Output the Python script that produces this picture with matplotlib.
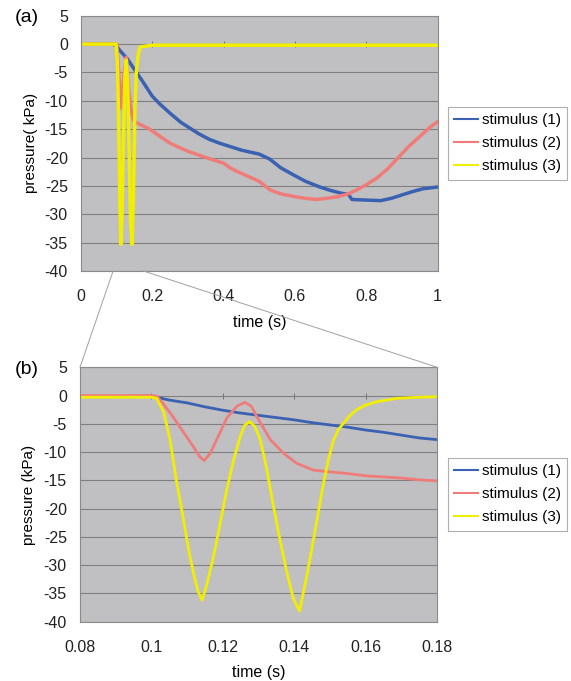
import matplotlib
matplotlib.use("Agg")
import matplotlib.pyplot as plt
from matplotlib.patches import ConnectionPatch

plt.rcParams['font.family'] = ['Liberation Sans', 'DejaVu Sans']
plt.rcParams['axes.unicode_minus'] = False

series_names = ['stimulus (1)', 'stimulus (2)', 'stimulus (3)']
colors = ['#3b62b2', '#f07c7a', '#f2ee00']

# panel (a): whole 1 s record
t_a1 = [0, 0.09, 0.1, 0.11, 0.13, 0.15, 0.17, 0.2, 0.22, 0.25, 0.28, 0.3, 0.33, 0.36,
        0.39, 0.42, 0.45, 0.5, 0.53, 0.56, 0.6, 0.63, 0.67, 0.7, 0.73, 0.75, 0.76,
        0.8, 0.84, 0.87, 0.9, 0.93, 0.96, 1.0]
p_a1 = [0, 0, -0.4, -1.2, -2.6, -4.5, -6.3, -9.2, -10.5, -12.2, -13.8, -14.6, -15.8,
        -16.8, -17.5, -18.1, -18.7, -19.4, -20.3, -21.8, -23.2, -24.2, -25.2, -25.8,
        -26.3, -26.5, -27.4, -27.5, -27.6, -27.2, -26.6, -26.0, -25.5, -25.2]

t_a2 = [0, 0.1, 0.105, 0.111, 0.118, 0.127, 0.133, 0.14, 0.147, 0.16, 0.19, 0.22, 0.25,
        0.3, 0.35, 0.4, 0.42, 0.45, 0.5, 0.53, 0.56, 0.6, 0.63, 0.66, 0.7, 0.72, 0.75,
        0.78, 0.8, 0.83, 0.86, 0.89, 0.92, 0.95, 0.98, 1.0]
p_a2 = [0, 0, -4, -11.3, -7, -2.3, -7.5, -11.5, -13.4, -14.0, -14.9, -16.2, -17.5,
        -18.9, -20.0, -21.0, -21.9, -22.8, -24.2, -25.7, -26.4, -26.9, -27.2, -27.4,
        -27.1, -26.9, -26.4, -25.5, -24.8, -23.6, -22.0, -20.0, -18.0, -16.3, -14.6, -13.7]

t_a3 = [0, 0.098, 0.102, 0.106, 0.109, 0.112, 0.115, 0.119, 0.123, 0.127, 0.131, 0.135,
        0.139, 0.143, 0.147, 0.151, 0.155, 0.16, 0.166, 0.2, 1.0]
p_a3 = [0, 0, -3, -15, -28, -35.3, -30, -17, -6, -2.8, -7, -19, -31, -35.3, -27, -12,
        -5, -2, -0.5, -0.2, -0.2]

# panel (b): 0.08 - 0.18 s
t_b1 = [0.08, 0.1, 0.105, 0.11, 0.115, 0.12, 0.125, 0.13, 0.135, 0.14, 0.145, 0.15,
        0.155, 0.16, 0.165, 0.17, 0.175, 0.18]
p_b1 = [-0.2, -0.1, -0.8, -1.3, -2.0, -2.6, -3.1, -3.5, -3.9, -4.3, -4.8, -5.2, -5.6,
        -6.1, -6.5, -7.0, -7.5, -7.8]

t_b2 = [0.08, 0.1, 0.1015, 0.103, 0.106, 0.108, 0.11, 0.112, 0.1135, 0.1148, 0.1165,
        0.1183, 0.1211, 0.1239, 0.1262, 0.128, 0.1295, 0.1333, 0.137, 0.1407, 0.1454,
        0.15, 0.155, 0.16, 0.165, 0.17, 0.175, 0.18]
p_b2 = [0, 0, -0.1, -1.2, -3.7, -5.6, -7.4, -9.3, -10.8, -11.5, -10.2, -7.8, -4.0, -1.9,
        -1.2, -1.9, -3.7, -7.8, -10.2, -12.0, -13.2, -13.5, -13.8, -14.2, -14.4, -14.6,
        -14.9, -15.1]

t_b3 = [0.08, 0.1, 0.1015, 0.1035, 0.1052, 0.107, 0.109, 0.1105, 0.1118, 0.113, 0.1142,
        0.1155, 0.1174, 0.1193, 0.1211, 0.123, 0.1249, 0.1262, 0.1275, 0.129, 0.1305,
        0.1323, 0.1342, 0.136, 0.138, 0.1398, 0.1415, 0.1435, 0.1454, 0.1468, 0.1482,
        0.1496, 0.151, 0.1524, 0.1538, 0.1557, 0.1575, 0.16, 0.1631, 0.1687, 0.175, 0.18]
p_b3 = [-0.3, -0.3, -0.5, -3, -7.8, -15, -22, -27.5, -31.4, -34.5, -36.2, -33.5, -28.5,
        -22.5, -16.7, -11.5, -7.2, -5.2, -4.6, -5.5, -7.8, -13, -19.6, -25.5, -31.4, -36,
        -38.1, -32, -25.5, -20.5, -15.5, -11.3, -7.9, -6.0, -4.9, -3.5, -2.5, -1.7, -1.1,
        -0.5, -0.3, -0.2]

yticks = [5, 0, -5, -10, -15, -20, -25, -30, -35, -40]
xticks_a = [0, 0.2, 0.4, 0.6, 0.8, 1.0]
xlabels_a = ['0', '0.2', '0.4', '0.6', '0.8', '1']
xticks_b = [0.08, 0.1, 0.12, 0.14, 0.16, 0.18]
xlabels_b = ['0.08', '0.1', '0.12', '0.14', '0.16', '0.18']

fig = plt.figure(figsize=(5.71, 6.81), dpi=100)
ax1 = fig.add_axes([0.1419, 0.6021, 0.6243, 0.3748])
ax2 = fig.add_axes([0.1401, 0.0871, 0.6252, 0.3736])


def style_axes(ax, xticks, xlabels, xlim, ylabel):
    ax.set_facecolor('#c0c0c2')
    ax.set_xlim(*xlim)
    ax.set_ylim(-40, 5)
    ax.set_yticks(yticks)
    ax.set_xticks(xticks)
    ax.set_xticklabels(xlabels)
    ax.tick_params(axis='both', length=0, labelsize=11.5, colors='#222222')
    ax.tick_params(axis='x', pad=13)
    ax.tick_params(axis='y', pad=9.5)
    ax.grid(axis='y', color='#808080', linewidth=0.8)
    ax.set_axisbelow(True)
    for s in ax.spines.values():
        s.set_color('#8a8a8a')
        s.set_linewidth(0.8)
    ax.set_xlabel('time (s)', fontsize=11.5)
    ax.set_ylabel(ylabel, fontsize=11)
    ax.xaxis.set_label_coords(0.5, -0.172)
    ax.yaxis.set_label_coords(-0.122, 0.5)
    # excel-style tick marks on the zero line
    sec = ax.secondary_xaxis(40 / 45)
    sec.set_xticks(xticks)
    sec.tick_params(axis='x', direction='inout', length=5, width=0.7,
                    colors='#707070', labelbottom=False, labeltop=False)
    sec.spines['top'].set_visible(False)
    sec.spines['bottom'].set_visible(False)


style_axes(ax1, xticks_a, xlabels_a, (0, 1), 'pressure( kPa)')
style_axes(ax2, xticks_b, xlabels_b, (0.08, 0.18), 'pressure (kPa)')

for t, p, c, n in zip([t_a1, t_a2, t_a3], [p_a1, p_a2, p_a3], colors, series_names):
    ax1.plot(t, p, color=c, lw=2.5, label=n, solid_joinstyle='round')
for t, p, c, n in zip([t_b1, t_b2, t_b3], [p_b1, p_b2, p_b3], colors, series_names):
    ax2.plot(t, p, color=c, lw=2.0, label=n, solid_joinstyle='round')

for ax, ytop in [(ax1, 107), (ax2, 458)]:
    leg = ax.legend(loc='upper left', bbox_to_anchor=(447.7 / 571, 1 - ytop / 681),
                    bbox_transform=fig.transFigure, borderaxespad=0, fontsize=11,
                    frameon=True, fancybox=False, framealpha=1, edgecolor='#b0b0b0',
                    handlelength=1.6, handletextpad=0.25, labelspacing=0.6,
                    borderpad=0.4)
    leg.get_frame().set_linewidth(0.8)
    for line in leg.get_lines():
        line.set_linewidth(1.5)

fig.text(0.047, 0.975, '(a)', fontsize=14, ha='center', va='center')
fig.text(0.047, 0.4567, '(b)', fontsize=14, ha='center', va='center')

# zoom connector lines from (a) to (b)
for xa, xb in [(0.09, 0), (0.175, 1)]:
    con = ConnectionPatch(xyA=(xa, -40), coordsA=ax1.transData,
                          xyB=(xb, 1), coordsB=ax2.transAxes,
                          color='#a0a0a0', lw=0.7)
    fig.add_artist(con)

fig.savefig('out.png', dpi=100)
